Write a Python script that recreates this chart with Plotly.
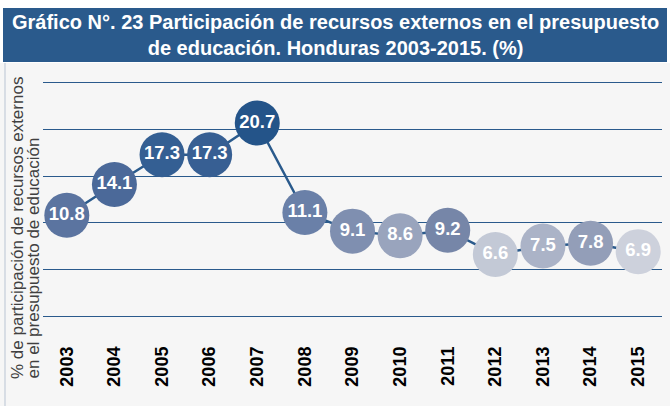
import plotly.graph_objects as go

years = ["2003", "2004", "2005", "2006", "2007", "2008", "2009",
         "2010", "2011", "2012", "2013", "2014", "2015"]
values = [10.8, 14.1, 17.3, 17.3, 20.7, 11.1, 9.1, 8.6, 9.2, 6.6, 7.5, 7.8, 6.9]
bubble_colors = ["#5b74a0", "#4b6999", "#345f93", "#375f93", "#245489", "#6a80a8",
                 "#7f8fb0", "#99a4bd", "#7686a8", "#c3c9d6", "#abb3c7", "#939eb8",
                 "#cdd1dc"]
title_text = ("Gráfico N°. 23 Participación de recursos externos en el presupuesto"
              "<br>de educación. Honduras 2003-2015. (%)")
ytitle_line1 = "% de participación de recursos externos"
ytitle_line2 = "en el presupuesto de educación"

FONT = "Liberation Sans, Arial, sans-serif"
BLUE = "#2a5a8c"

W, H = 670, 406
L, R, T, B = 43, 8, 81, 90
pw, ph = W - L - R, H - T - B


def px_x(x):
    return (x - L) / pw


def px_y(y):
    return (H - B - y) / ph


fig = go.Figure()
fig.add_trace(go.Scatter(
    x=years, y=values,
    mode="lines+markers+text",
    line=dict(color=BLUE, width=2.5),
    marker=dict(size=45, color=bubble_colors, line=dict(width=0)),
    text=[f"{v:.1f}" for v in values],
    textposition="middle center",
    textfont=dict(family=FONT, size=18.5, color="white", weight="bold"),
    hoverinfo="skip",
    cliponaxis=False,
))

shapes = [
    dict(type="rect", xref="paper", yref="paper", x0=-0.2, x1=1.2,
         y0=px_y(63), y1=px_y(-20), fillcolor="white", line=dict(width=0), layer="below"),
    dict(type="rect", xref="paper", yref="paper", x0=px_x(3), x1=px_x(667),
         y0=px_y(62), y1=px_y(8), fillcolor=BLUE, line=dict(width=0), layer="below"),
    dict(type="line", xref="paper", yref="paper", x0=px_x(5), x1=px_x(5),
         y0=px_y(63), y1=px_y(410), line=dict(color="#b9c4d3", width=1), layer="below"),
]

annotations = [
    dict(text=title_text, xref="paper", yref="paper", x=px_x(335), y=px_y(35),
         xanchor="center", yanchor="middle", showarrow=False, align="center",
         font=dict(family=FONT, size=20, color="white", weight="bold")),
    dict(text=ytitle_line1, xref="paper", yref="paper", x=px_x(17), y=px_y(381),
         xanchor="center", yanchor="bottom", showarrow=False,
         textangle=-90, font=dict(family=FONT, size=17, color="#404040")),
    dict(text=ytitle_line2, xref="paper", yref="paper", x=px_x(33), y=px_y(381),
         xanchor="center", yanchor="bottom", showarrow=False,
         textangle=-90, font=dict(family=FONT, size=17, color="#404040")),
]

fig.update_layout(
    width=W, height=H,
    margin=dict(l=L, r=R, t=T, b=B, pad=0),
    paper_bgcolor="#f6f6f6", plot_bgcolor="#f6f6f6",
    showlegend=False, hovermode=False,
    shapes=shapes, annotations=annotations,
    xaxis=dict(type="category", range=[-0.5, 12.5], showgrid=False, zeroline=False,
               showline=False, tickangle=-90, ticks="", ticklabelstandoff=26,
               automargin=False,
               tickfont=dict(family=FONT, size=18, color="black", weight="bold")),
    yaxis=dict(range=[0, 25.2], dtick=5, showgrid=True, gridcolor=BLUE, gridwidth=1,
               zeroline=True, zerolinecolor=BLUE, zerolinewidth=1, automargin=False,
               showticklabels=False, ticks="", showline=False),
)

fig.write_html("out.html", config={"displayModeBar": False},
               post_script="document.body.style.margin='0';document.body.style.padding='0';")
